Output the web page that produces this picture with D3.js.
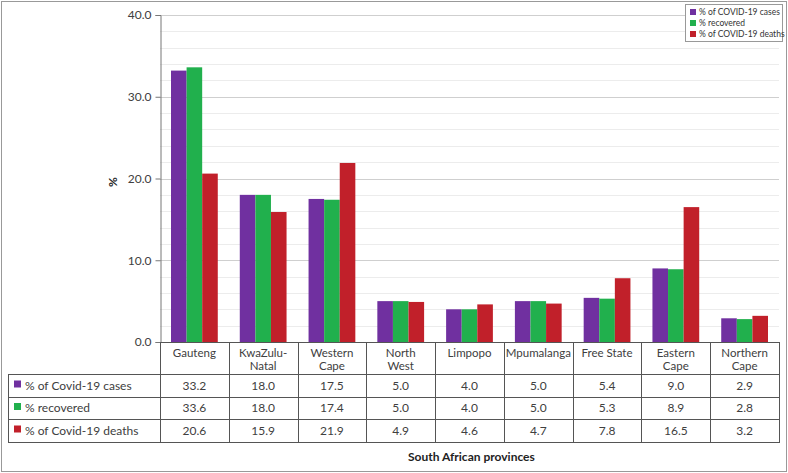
<!DOCTYPE html>
<html><head><meta charset="utf-8">
<script src="https://cdn.jsdelivr.net/npm/d3@7/dist/d3.min.js"></script>
<style>body{margin:0;background:#fff;}svg{display:block;font-family:Lato,"Open Sans",sans-serif;}</style>
</head><body>
<svg id="c" width="788" height="473"></svg>
<script>
const provinces = ["Gauteng","KwaZulu-\nNatal","Western\nCape","North\nWest","Limpopo","Mpumalanga","Free State","Eastern\nCape","Northern\nCape"];
const cases = [33.2,18.0,17.5,5.0,4.0,5.0,5.4,9.0,2.9];
const recovered = [33.6,18.0,17.4,5.0,4.0,5.0,5.3,8.9,2.8];
const deaths = [20.6,15.9,21.9,4.9,4.6,4.7,7.8,16.5,3.2];
const seriesNames = ["% of COVID-19 cases","% recovered","% of COVID-19 deaths"];
const tableNames = ["% of Covid-19 cases","% recovered","% of Covid-19 deaths"];
const colors = ["#7030A0","#21B04D","#C1202A"];
const yTicks = [0,10,20,30,40];
const series = [cases, recovered, deaths];

(function(){
const svg = d3.select("#c");
const pL = 160, pR = 779, pT = 15, pB = 342;
svg.append("rect").attr("x",1.5).attr("y",1.5).attr("width",785).attr("height",470).attr("fill","none").attr("stroke","#999").attr("stroke-width",1);

const x = d3.scaleBand().domain(d3.range(provinces.length)).range([pL,pR]).paddingInner(0).paddingOuter(0);
const y = d3.scaleLinear().domain([0,40]).range([pB,pT]);
const inner = d3.scaleBand().domain([0,1,2]).range([0,x.bandwidth()*0.68]);
const off = (x.bandwidth() - x.bandwidth()*0.68)/2;

const minor = d3.range(2,40,2).filter(v=>v%10!==0);
svg.append("g").selectAll("line").data(minor).join("line")
  .attr("x1",pL).attr("x2",pR).attr("y1",d=>Math.round(y(d))+0.5).attr("y2",d=>Math.round(y(d))+0.5)
  .attr("stroke","#ececec").attr("stroke-width",1);
svg.append("g").selectAll("line").data(yTicks.slice(1)).join("line")
  .attr("x1",pL).attr("x2",pR).attr("y1",d=>Math.round(y(d))+0.5).attr("y2",d=>Math.round(y(d))+0.5)
  .attr("stroke","#cfcfcf").attr("stroke-width",1);

series.forEach((s,si)=>{
  svg.append("g").selectAll("rect").data(s).join("rect")
    .attr("x",(d,i)=>x(i)+off+inner(si))
    .attr("y",d=>y(d))
    .attr("width",inner.bandwidth())
    .attr("height",d=>pB-y(d))
    .attr("fill",colors[si]);
});

const ya = svg.append("g").attr("transform",`translate(${pL+0.5},0)`)
  .call(d3.axisLeft(y).tickValues(yTicks).tickFormat(d3.format(".1f")).tickSize(5).tickPadding(4));
ya.select(".domain").attr("stroke","#777");
ya.selectAll(".tick line").attr("stroke","#777");
ya.selectAll("text").attr("font-size",12).attr("fill","#404040").attr("font-family","Lato,'Open Sans',sans-serif");

svg.append("text").attr("transform","translate(117,182) rotate(-90)").attr("text-anchor","middle")
  .attr("font-size",12).attr("font-weight","bold").attr("fill","#222").text("%");

const rowY = [342,374,397,419,442];
const tline = "#555";
const tg = svg.append("g");
tg.append("line").attr("x1",pL).attr("x2",pR).attr("y1",342.5).attr("y2",342.5).attr("stroke",tline);
[1,2,3,4].forEach(k=>{
  tg.append("line").attr("x1",8).attr("x2",pR).attr("y1",rowY[k]+0.5).attr("y2",rowY[k]+0.5).attr("stroke",tline);
});
tg.append("line").attr("x1",8.5).attr("x2",8.5).attr("y1",rowY[1]).attr("y2",rowY[4]+1).attr("stroke",tline);
d3.range(provinces.length+1).forEach(i=>{
  const xx = i<provinces.length ? x(i) : pR;
  tg.append("line").attr("x1",Math.round(xx)+0.5).attr("x2",Math.round(xx)+0.5).attr("y1",342).attr("y2",rowY[4]+1).attr("stroke",tline);
});
provinces.forEach((p,i)=>{
  const lines = p.split("\n");
  lines.forEach((l,j)=>tg.append("text").attr("text-anchor","middle").attr("font-size",11.5).attr("fill","#404040")
    .attr("x",x(i)+x.bandwidth()/2).attr("y",356.5+j*13.5).text(l));
});
series.forEach((s,si)=>{
  const cy = (rowY[si+1]+rowY[si+2])/2;
  tg.append("rect").attr("x",14).attr("y",cy-5).attr("width",7).attr("height",7).attr("fill",colors[si]);
  tg.append("text").attr("x",25).attr("y",cy+4).attr("font-size",12).attr("fill","#404040").text(tableNames[si]);
  s.forEach((v,i)=>{
    tg.append("text").attr("x",x(i)+x.bandwidth()/2).attr("y",cy+4).attr("text-anchor","middle")
      .attr("font-size",12).attr("fill","#404040").text(v.toFixed(1));
  });
});

svg.append("text").attr("x",408).attr("y",461).attr("font-size",12).attr("font-weight","bold").attr("fill","#222").text("South African provinces");

const lg = svg.append("g");
lg.append("rect").attr("x",685.5).attr("y",4.5).attr("width",97).attr("height",37).attr("fill","#fff").attr("stroke","#999");
seriesNames.forEach((n,i)=>{
  lg.append("rect").attr("x",690).attr("y",9+i*11).attr("width",6).attr("height",6).attr("fill",colors[i]);
  lg.append("text").attr("x",699).attr("y",15+i*11).attr("font-size",8.5).attr("fill","#333").text(n);
});
})();
</script>
</body></html>
